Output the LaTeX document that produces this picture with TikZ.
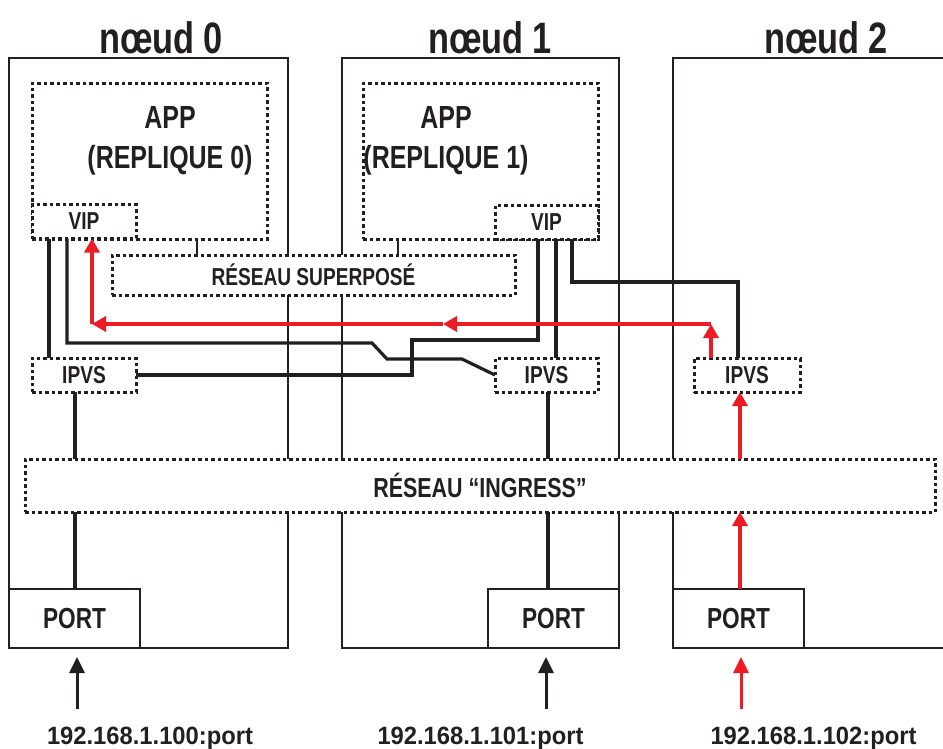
\documentclass[tikz,border=0pt]{standalone}
\usepackage{fontspec}
\newfontfamily\narrowsans[FakeStretch=0.78]{Liberation Sans}
\newfontfamily\ipsans[FakeStretch=0.95]{Liberation Sans}
\usetikzlibrary{arrows.meta,positioning,calc}
\definecolor{ink}{HTML}{231F20}
\definecolor{flowred}{HTML}{ED1C24}
\tikzset{
    net title/.style={font=\narrowsans\bfseries\fontsize{44}{48}\selectfont, text=ink, inner sep=0pt, anchor=base},
    net host/.style={
        draw=ink,
        line width=2.5pt,
        fill=white,
        inner sep=0pt,
        outer sep=0pt,
        anchor=north west,
        minimum height=590
    },
    net zone/.style={
        draw=ink,
        line width=3pt,
        dash pattern=on 3.5pt off 3pt,
        fill=white,
        inner sep=0pt,
        outer sep=0pt,
        text=ink,
        font=\narrowsans\bfseries\fontsize{24.5}{28}\selectfont
    },
    net app/.style={net zone, anchor=north west, minimum width=235, minimum height=156},
    net small/.style={net zone, minimum width=104, minimum height=34},
    net band/.style={net zone, font=\narrowsans\bfseries\fontsize{27.5}{30}\selectfont},
    net port/.style={
        draw=ink,
        line width=1.5pt,
        fill=white,
        inner sep=0pt,
        outer sep=0pt,
        anchor=north west,
        minimum width=131,
        minimum height=59,
        text=ink,
        font=\narrowsans\bfseries\fontsize{29}{32}\selectfont
    },
    net app text/.style={align=center, inner sep=0pt, text=ink, font=\narrowsans\bfseries\fontsize{32}{40}\selectfont},
    net ip/.style={anchor=base, inner sep=0pt, text=ink, font=\ipsans\bfseries\fontsize{25}{28}\selectfont},
    net wire/.style={draw=ink, line width=3.2pt},
    net tick/.style={draw=ink, line width=2.5pt},
    net flow/.style={draw=flowred, line width=3.5pt, -{Triangle[length=14pt,width=15pt]}},
    net in/.style={draw=ink, line width=3pt, -{Triangle[length=16pt,width=15pt]}}
}

\begin{document}
\begin{tikzpicture}[x=1pt, y=-1pt]
\useasboundingbox (0,0) rectangle (943,748);

% hosts
\node[net host, minimum width=279] (host0) at (9,58) {};
\node[net host, minimum width=277] (host1) at (342,58) {};
\begin{scope}
    \clip (0,0) rectangle (943,748);
    \node[net host, minimum width=300] (host2) at (673,58) {};
\end{scope}
\node[net title] (t0) at (161,53) {nœud 0};
\node[net title] (t1) at (490,53) {nœud 1};
\node[net title] (t2) at (826,53) {nœud 2};

% ports
\node[net port] (port0) at (9,589) {PORT};
\node[net port] (port1) at (488,589) {PORT};
\node[net port] (port2) at (673,589) {PORT};

% replicas
\node[net app] (app0) at (32,83) {};
\node[net app] (app1) at (363,83) {};
\node[net app text] (app0t) at (170,141) {APP\\(REPLIQUE 0)};
\node[net app text] (app1t) at (446,141) {APP\\(REPLIQUE 1)};
\node[net small] (vip0) at (84,221.5) {VIP};
\node[net small, minimum width=103] (vip1) at (546.5,222) {VIP};

% networks
\node[net zone, minimum width=403, minimum height=40] (overlay) at (313.5,275) {RÉSEAU SUPERPOSÉ};
\node[net band, minimum width=910, minimum height=53] (ingress) at (480,485.5) {RÉSEAU “INGRESS”};

% load balancers
\node[net small] (ipvs0) at (84,375) {IPVS};
\node[net small, minimum width=103] (ipvs1) at (546.5,375) {IPVS};
\node[net small, minimum width=106] (ipvs2) at (747,375) {IPVS};

\draw[net tick] (197,0 |- app0.south) -- (197,0 |- overlay.north);
\draw[net tick] (398,0 |- app1.south) -- (398,0 |- overlay.north);

% mesh wiring
\draw[net wire] (49,0 |- vip0.south) -- (49,0 |- ipvs0.north);
\draw[net wire] (67,0 |- vip0.south) |- (372,343) -- (387,359) -- (462,359) -- (ipvs1.west);
\draw[net wire] (538,0 |- vip1.south) |- (412,340) |- (ipvs0.east);
\draw[net wire] (556,0 |- vip1.south) -- (556,0 |- ipvs1.north);
\draw[net wire] (572,0 |- vip1.south) |- (738,282) -- (738,0 |- ipvs2.north);
\draw[net wire] (75,0 |- ipvs0.south) -- (75,0 |- ingress.north);
\draw[net wire] (75,0 |- ingress.south) -- (75,0 |- port0.north);
\draw[net wire] (548,0 |- ipvs1.south) -- (548,0 |- ingress.north);
\draw[net wire] (548,0 |- ingress.south) -- (548,0 |- port1.north);

% request path
\coordinate (turnR) at (711,324);
\coordinate (midR) at (443,324);
\coordinate (turnL) at (92,324);
\draw[net flow] (740,0 |- port2.north) -- (740,0 |- ingress.south);
\draw[net flow] (740,0 |- ingress.north) -- (740,0 |- ipvs2.south);
\draw[net flow] (711,0 |- ipvs2.north) -- (turnR);
\draw[net flow] (turnR) -- (midR);
\draw[net flow] (midR) -- (turnL);
\draw[net flow] (turnL) -- (92,0 |- vip0.south);

% entry points
\node[net ip] (ip0) at (150,744) {192.168.1.100:port};
\node[net ip] (ip1) at (480.5,744) {192.168.1.101:port};
\node[net ip] (ip2) at (813.5,744) {192.168.1.102:port};
\draw[net in, shorten <=17pt, shorten >=9pt] (77,0 |- ip0.north) -- (77,0 |- port0.south);
\draw[net in, shorten <=17pt, shorten >=9pt] (546,0 |- ip1.north) -- (546,0 |- port1.south);
\draw[net in, draw=flowred, shorten <=17pt, shorten >=9pt] (741,0 |- ip2.north) -- (741,0 |- port2.south);
\end{tikzpicture}
\end{document}
